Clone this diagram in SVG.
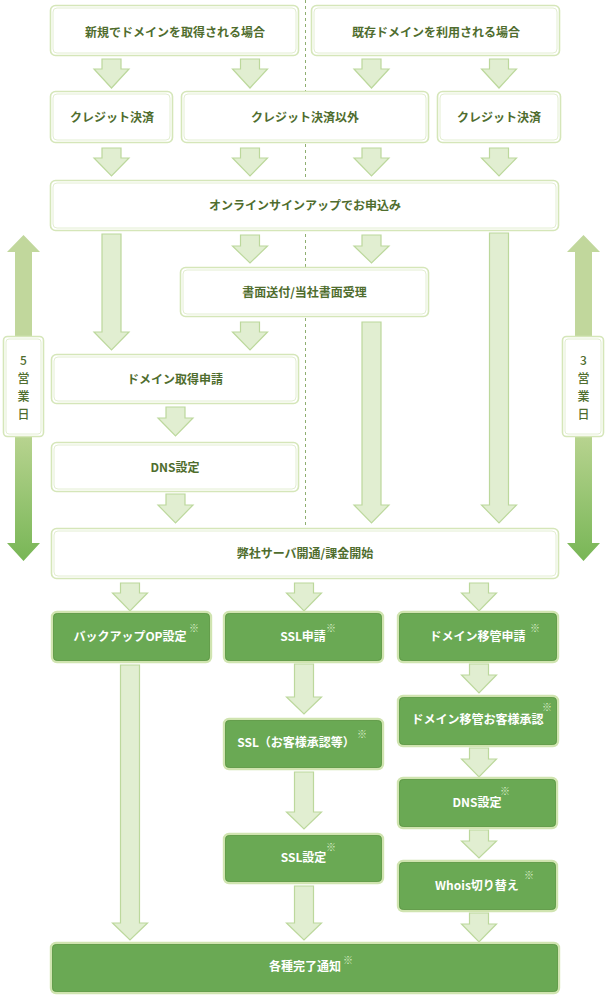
<svg xmlns="http://www.w3.org/2000/svg" width="612" height="998" viewBox="0 0 612 998">
<defs>
<linearGradient id="gdown" x1="0" y1="0" x2="0" y2="1">
<stop offset="0" stop-color="#b7d38f"/>
<stop offset="1" stop-color="#78b656"/>
</linearGradient>
<style>
.wb{fill:#fff;stroke:#d5e6b9;stroke-width:1.6}
.wi{fill:none;stroke:#e3eed2;stroke-width:1}
.gb{fill:#6aa954;stroke:#d0e4b0;stroke-width:2.4}
.gi{fill:none;stroke:#5d9845;stroke-width:0.8}
.ar{fill:#e1eed1;stroke:#bcd89c;stroke-width:1.2}
.t{font-family:"Noto Sans CJK JP","Noto Sans",sans-serif;font-size:12px;font-weight:bold;fill:#4f6d2e;text-anchor:middle}
.d{font-family:"Noto Sans CJK JP","Noto Sans",sans-serif;font-size:12px;font-weight:500;fill:#4f6d2e;text-anchor:middle}
.tw{font-family:"Noto Sans CJK JP","Noto Sans",sans-serif;font-size:12px;font-weight:bold;fill:#ffffff;text-anchor:middle}
.k{font-family:"Noto Sans CJK JP","Noto Sans",sans-serif;font-size:10px;fill:#d9ecc7;text-anchor:middle}
</style>
</defs>
<rect width="612" height="998" fill="#fff"/>
<line x1="305.5" y1="0" x2="305.5" y2="526" stroke="#8fae70" stroke-width="1" stroke-dasharray="3,3"/>

<g id="connectors">
<path class="ar" d="M102 59H121V69H129L111.5 88L94 69H102Z"/>
<path class="ar" d="M240.5 59H259.5V69H267.5L250 88L232.5 69H240.5Z"/>
<path class="ar" d="M362 59H381V69H389L371.5 88L354 69H362Z"/>
<path class="ar" d="M489.5 59H508.5V69H516.5L499 88L481.5 69H489.5Z"/>
<path class="ar" d="M102 148H121V158H129L111.5 176L94 158H102Z"/>
<path class="ar" d="M240.5 148H259.5V158H267.5L250 176L232.5 158H240.5Z"/>
<path class="ar" d="M362 148H381V158H389L371.5 176L354 158H362Z"/>
<path class="ar" d="M489.5 148H508.5V158H516.5L499 176L481.5 158H489.5Z"/>
<path class="ar" d="M102 234H121V332H129L111.5 350L94 332H102Z"/>
<path class="ar" d="M240.5 235H259.5V246H267.5L250 263L232.5 246H240.5Z"/>
<path class="ar" d="M362 235H381V246H389L371.5 263L354 246H362Z"/>
<path class="ar" d="M489.5 233H508.5V505H516.5L499 523L481.5 505H489.5Z"/>
<path class="ar" d="M240.5 322H259.5V332H267.5L250 350L232.5 332H240.5Z"/>
<path class="ar" d="M362 322H381V505H389L371.5 523L354 505H362Z"/>
<path class="ar" d="M166 407H185V418H193L175.5 436L158 418H166Z"/>
<path class="ar" d="M166 494H185V505H193L175.5 523L158 505H166Z"/>
<path class="ar" d="M120.5 583H139.5V593H147.5L130 611L112.5 593H120.5Z"/>
<path class="ar" d="M294.5 583H313.5V593H321.5L304 611L286.5 593H294.5Z"/>
<path class="ar" d="M469.5 583H488.5V593H496.5L479 611L461.5 593H469.5Z"/>
<path class="ar" d="M120.5 665H139.5V923H147.5L130 940L112.5 923H120.5Z"/>
<path class="ar" d="M294.5 664H313.5V697H321.5L304 714L286.5 697H294.5Z"/>
<path class="ar" d="M294.5 772H313.5V812H321.5L304 829L286.5 812H294.5Z"/>
<path class="ar" d="M294.5 886H313.5V923H321.5L304 940L286.5 923H294.5Z"/>
<path class="ar" d="M469.5 664H488.5V675H496.5L479 693L461.5 675H469.5Z"/>
<path class="ar" d="M469.5 748H488.5V759H496.5L479 777L461.5 759H469.5Z"/>
<path class="ar" d="M469.5 830H488.5V841H496.5L479 858L461.5 841H469.5Z"/>
<path class="ar" d="M469.5 913H488.5V924H496.5L479 942L461.5 924H469.5Z"/>
</g>

<g id="days5">
<path d="M15 336V252H7L23.5 235L40 252H32V336Z" fill="#c1d79c"/>
<path d="M15 437H32V543H40L23.5 561L7 543H15Z" fill="url(#gdown)"/>
<rect class="wb" x="3.5" y="336.5" width="40" height="100" rx="4"/>
<rect class="wi" x="6" y="339" width="35" height="95" rx="3"/>
<text class="d" x="23.5" y="365">5</text>
<text class="d" x="23.5" y="383">営</text>
<text class="d" x="23.5" y="401">業</text>
<text class="d" x="23.5" y="419">日</text>
</g>
<g id="days3">
<path d="M575 336V252H567L583.5 235L600 252H592V336Z" fill="#c1d79c"/>
<path d="M575 437H592V543H600L583.5 561L567 543H575Z" fill="url(#gdown)"/>
<rect class="wb" x="562.5" y="336.5" width="41" height="100" rx="4"/>
<rect class="wi" x="565" y="339" width="36" height="95" rx="3"/>
<text class="d" x="583.5" y="365">3</text>
<text class="d" x="583.5" y="383">営</text>
<text class="d" x="583.5" y="401">業</text>
<text class="d" x="583.5" y="419">日</text>
</g>

<g id="n_new">
<rect class="wb" x="50.5" y="5.5" width="248" height="50" rx="5"/>
<rect class="wi" x="53" y="8" width="243" height="45" rx="4"/>
<text class="t" x="175" y="36.5">新規でドメインを取得される場合</text>
</g>
<g id="n_exist">
<rect class="wb" x="311.5" y="5.5" width="248" height="50" rx="5"/>
<rect class="wi" x="314" y="8" width="243" height="45" rx="4"/>
<text class="t" x="436" y="36.5">既存ドメインを利用される場合</text>
</g>
<g id="n_credit1">
<rect class="wb" x="50.5" y="91.5" width="122" height="51" rx="5"/>
<rect class="wi" x="53" y="94" width="117" height="46" rx="4"/>
<text class="t" x="112" y="121.5">クレジット決済</text>
</g>
<g id="n_other">
<rect class="wb" x="181.5" y="91.5" width="247" height="51" rx="5"/>
<rect class="wi" x="184" y="94" width="242" height="46" rx="4"/>
<text class="t" x="305" y="121.5">クレジット決済以外</text>
</g>
<g id="n_credit2">
<rect class="wb" x="437.5" y="91.5" width="123" height="51" rx="5"/>
<rect class="wi" x="440" y="94" width="118" height="46" rx="4"/>
<text class="t" x="499" y="121.5">クレジット決済</text>
</g>
<g id="n_signup">
<rect class="wb" x="50.5" y="180.5" width="508" height="50" rx="5"/>
<rect class="wi" x="53" y="183" width="503" height="45" rx="4"/>
<text class="t" x="305" y="209.5">オンラインサインアップでお申込み</text>
</g>
<g id="n_doc">
<rect class="wb" x="180.5" y="267.5" width="248" height="49" rx="5"/>
<rect class="wi" x="183" y="270" width="243" height="44" rx="4"/>
<text class="t" x="304.5" y="296.5">書面送付/当社書面受理</text>
</g>
<g id="n_domreq">
<rect class="wb" x="51.5" y="354.5" width="247" height="49" rx="5"/>
<rect class="wi" x="54" y="357" width="242" height="44" rx="4"/>
<text class="t" x="175" y="384">ドメイン取得申請</text>
</g>
<g id="n_dns1">
<rect class="wb" x="51.5" y="442.5" width="247" height="49" rx="5"/>
<rect class="wi" x="54" y="445" width="242" height="44" rx="4"/>
<text class="t" x="175" y="471.5">DNS設定</text>
</g>
<g id="n_server">
<rect class="wb" x="51.5" y="528.5" width="507" height="50" rx="5"/>
<rect class="wi" x="54" y="531" width="502" height="45" rx="4"/>
<text class="t" x="305" y="557.5">弊社サーバ開通/課金開始</text>
</g>

<g id="n_backup">
<rect class="gb" x="52" y="612" width="159" height="50" rx="5"/>
<rect class="gi" x="53.5" y="613.5" width="156" height="47" rx="4"/>
<text class="tw" x="130" y="641">バックアップOP設定</text>
<text class="k" x="194" y="632">※</text>
</g>
<g id="n_sslreq">
<rect class="gb" x="224" y="612" width="159" height="50" rx="5"/>
<rect class="gi" x="225.5" y="613.5" width="156" height="47" rx="4"/>
<text class="tw" x="303" y="641">SSL申請</text>
<text class="k" x="331" y="632">※</text>
</g>
<g id="n_transreq">
<rect class="gb" x="398" y="612" width="160" height="50" rx="5"/>
<rect class="gi" x="399.5" y="613.5" width="157" height="47" rx="4"/>
<text class="tw" x="477.5" y="641">ドメイン移管申請</text>
<text class="k" x="535" y="632">※</text>
</g>
<g id="n_sslapprove">
<rect class="gb" x="224" y="719" width="159" height="50" rx="5"/>
<rect class="gi" x="225.5" y="720.5" width="156" height="47" rx="4"/>
<text class="tw" x="296" y="747">SSL（お客様承認等）</text>
<text class="k" x="362" y="738">※</text>
</g>
<g id="n_transapprove">
<rect class="gb" x="398" y="696" width="160" height="50" rx="5"/>
<rect class="gi" x="399.5" y="697.5" width="157" height="47" rx="4"/>
<text class="tw" x="477.5" y="724">ドメイン移管お客様承認</text>
<text class="k" x="547" y="711">※</text>
</g>
<g id="n_dns2">
<rect class="gb" x="398" y="778" width="159" height="50" rx="5"/>
<rect class="gi" x="399.5" y="779.5" width="156" height="47" rx="4"/>
<text class="tw" x="477" y="807">DNS設定</text>
<text class="k" x="505" y="795">※</text>
</g>
<g id="n_sslset">
<rect class="gb" x="224" y="834" width="159" height="49" rx="5"/>
<rect class="gi" x="225.5" y="835.5" width="156" height="46" rx="4"/>
<text class="tw" x="303.5" y="862">SSL設定</text>
<text class="k" x="331" y="851">※</text>
</g>
<g id="n_whois">
<rect class="gb" x="398" y="861" width="159" height="50" rx="5"/>
<rect class="gi" x="399.5" y="862.5" width="156" height="47" rx="4"/>
<text class="tw" x="477" y="890">Whois切り替え</text>
<text class="k" x="529" y="879">※</text>
</g>
<g id="n_done">
<rect class="gb" x="51" y="943" width="508" height="50" rx="5"/>
<rect class="gi" x="52.5" y="944.5" width="505" height="47" rx="4"/>
<text class="tw" x="305" y="971">各種完了通知</text>
<text class="k" x="348" y="964">※</text>
</g>
</svg>
